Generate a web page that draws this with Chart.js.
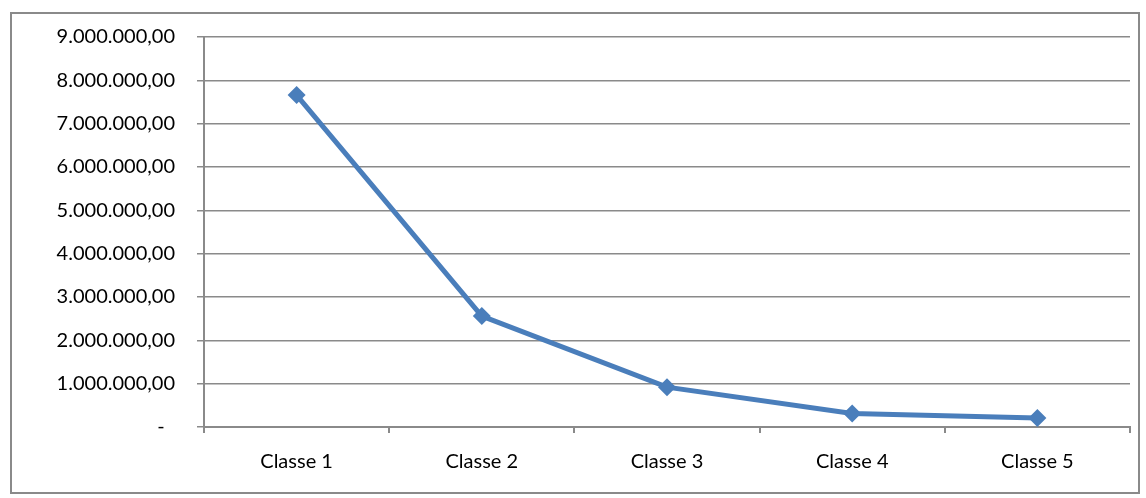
<!DOCTYPE html>
<html>
<head>
<meta charset="utf-8">
<script src="https://cdn.jsdelivr.net/npm/chart.js@4/dist/chart.umd.min.js"></script>
<style>
  html, body { margin: 0; padding: 0; background: #ffffff; }
  #wrap { position: relative; width: 1146px; height: 498px; }
  #frame {
    position: absolute; left: 10px; top: 12px; width: 1126px; height: 478px;
    border: 2px solid #8a8a8a; box-sizing: content-box;
  }
  canvas { position: absolute; left: 0; top: 0; }
</style>
</head>
<body>
<div id="wrap">
  <div id="frame"></div>
  <canvas id="chart" width="1146" height="498"></canvas>
</div>
<script>
// Categories and values
const categories = ['Classe 1', 'Classe 2', 'Classe 3', 'Classe 4', 'Classe 5'];
const totals = [7660000, 2560000, 920000, 310000, 210000];
const yTickValues = [0, 1000000, 2000000, 3000000, 4000000, 5000000, 6000000, 7000000, 8000000, 9000000];

const gridGray = '#8a8a8a';
const fontSpec = { family: 'Lato, "Open Sans", sans-serif', size: 20 };

function formatIt(v) {
  if (v === 0) return '-  ';
  const s = Math.round(v).toString().replace(/\B(?=(\d{3})+(?!\d))/g, '.');
  return s + ',00';
}

new Chart(document.getElementById('chart'), {
  type: 'line',
  data: {
    labels: categories,
    datasets: [{
      data: totals,
      borderColor: '#4a7ebb',
      backgroundColor: '#4a7ebb',
      borderWidth: 5,
      pointStyle: 'rectRot',
      pointRadius: 9,
      pointHoverRadius: 9,
      pointBorderWidth: 0,
      tension: 0,
      fill: false
    }]
  },
  options: {
    responsive: false,
    animation: false,
    events: [],
    layout: { padding: { top: 37, right: 16, left: 0, bottom: 0 } },
    plugins: { legend: { display: false }, tooltip: { enabled: false } },
    scales: {
      x: {
        offset: true,
        grid: {
          offset: true,
          drawOnChartArea: false,
          drawTicks: true,
          tickLength: 6,
          color: gridGray,
          lineWidth: 2
        },
        border: { color: gridGray, width: 2 },
        ticks: { color: '#000000', font: fontSpec, padding: 17, maxRotation: 0 },
        afterFit: (s) => { s.height = 71; }
      },
      y: {
        min: 0,
        max: 9000000,
        afterBuildTicks: (s) => { s.ticks = yTickValues.map(v => ({ value: v })); },
        grid: {
          color: gridGray,
          lineWidth: 1.5,
          drawTicks: true,
          tickLength: 7
        },
        border: { color: gridGray, width: 2 },
        ticks: {
          color: '#000000',
          font: fontSpec,
          padding: 22,
          callback: (v) => formatIt(v)
        },
        afterFit: (s) => { s.width = 204; }
      }
    }
  }
});
</script>
</body>
</html>
